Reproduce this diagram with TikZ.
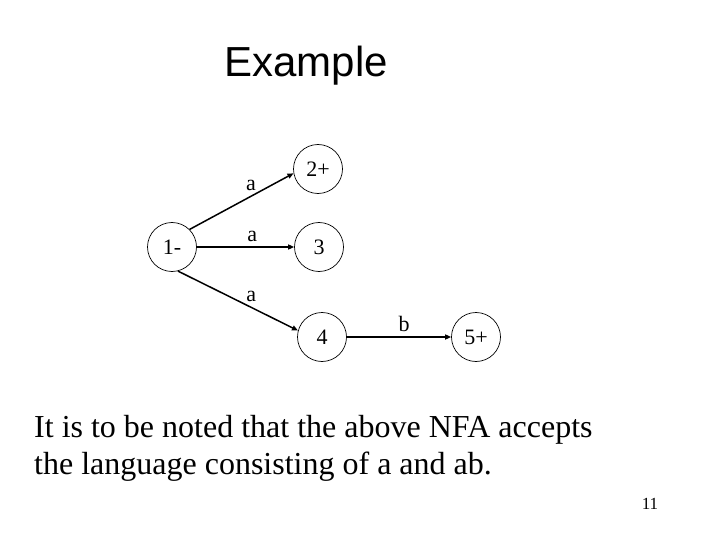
\documentclass[tikz,border=0pt]{standalone}
\usepackage{fontspec}
\setmainfont{Liberation Serif}
\newfontfamily\arialfont{Liberation Sans}
\usepackage{tikz}
\usetikzlibrary{
  arrows.meta,
  positioning
}

\begin{document}
\begin{tikzpicture}[
  x=1pt, y=-1pt,
  nfastate/.style={circle, draw, line width=0.7pt, minimum size=49pt, inner sep=0pt, font=\fontsize{22}{26}\selectfont},
  trans/.style={draw, -{Triangle[length=6pt, width=5pt]}, line width=1.5pt},
  sym/.style={font=\fontsize{22}{26}\selectfont, inner sep=1pt, above=4pt},
]
\useasboundingbox (0,0) rectangle (720,540);

\node[anchor=base, font=\arialfont\fontsize{42}{50}\selectfont] (title) at (306,77) {Example};

% states
\node[nfastate] (q1) at (172,247) {1-};
\node[nfastate] (q2) at (318,169) {2+};
\node[nfastate] (q3) at (319,247) {3};
\node[nfastate] (q4) at (322,337) {4};
\node[nfastate] (q5) at (476,337) {5+};

% transitions
\draw[trans] (q1.45) -- node[sym, pos=0.59] {a} (q2.190);
\draw[trans] (q1) -- node[sym, pos=0.57] {a} (q3);
\draw[trans] (q1.-76) -- node[sym, pos=0.61] {a} (q4.165);
\draw[trans] (q4) -- node[sym, pos=0.55] {b} (q5);

% remark (base is the last line)
\node[anchor=base west, align=left, font=\fontsize{32}{37}\selectfont, inner sep=0pt] (note) at (34,474)
  {It is to be noted that the above NFA accepts\\the language consisting of a and ab.};

\node[font=\fontsize{17}{20}\selectfont] (pagenum) at (650,504) {11};
\end{tikzpicture}
\end{document}
